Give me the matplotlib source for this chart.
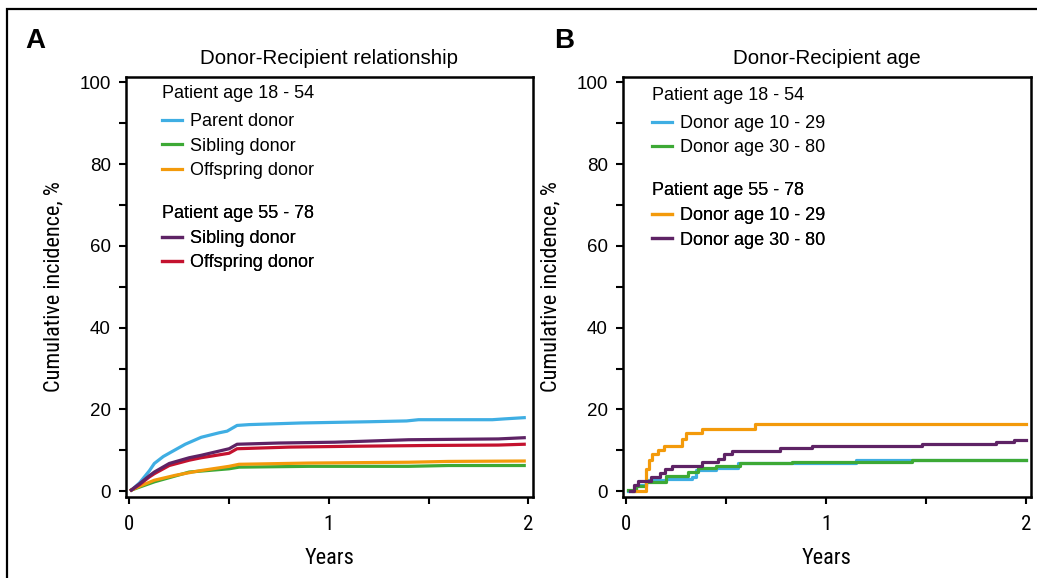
import matplotlib
matplotlib.use("Agg")
import matplotlib.pyplot as plt
import matplotlib.font_manager as fm
from matplotlib.patches import Rectangle
from matplotlib.ticker import MultipleLocator, FixedLocator

# === Fonts ===
NORMAL = ["Liberation Sans", "DejaVu Sans"]
plt.rcParams["font.family"] = NORMAL


def find_narrow_font():
    # pick a condensed/narrow regular face if one is installed
    prefs = ["Liberation Sans Narrow", "Roboto Condensed", "Open Sans Condensed",
             "Noto Sans Condensed", "DejaVu Sans Condensed", "DejaVu Sans"]
    found = {}
    for f in fm.fontManager.ttflist:
        narrow = ("Narrow" in f.name or "Condensed" in f.name
                  or f.stretch in ("condensed", "semi-condensed"))
        if not narrow or f.style != "normal":
            continue
        if f.weight not in (400, "normal", "regular", "book"):
            continue
        found.setdefault(f.name, f.fname)
    for p in prefs:
        if p in found:
            return found[p]
    if found:
        return sorted(found.values())[0]
    return None


NARROW_FILE = find_narrow_font()


def narrow(size):
    if NARROW_FILE:
        return fm.FontProperties(fname=NARROW_FILE, size=size)
    return fm.FontProperties(family=NORMAL, size=size, stretch="condensed")


# === Colours ===
BLUE = "#3FAEE3"
GREEN = "#3DA935"
ORANGE = "#F39A0B"
PURPLE = "#5E2365"
RED = "#C4122F"

# === Data: panel A (donor-recipient relationship) ===
a_parent_young_t = [0.01, 0.05, 0.10, 0.125, 0.17, 0.21, 0.28, 0.36, 0.45, 0.49, 0.54, 0.60, 0.86, 1.20, 1.39, 1.45, 1.82, 1.88, 1.98]
a_parent_young_v = [0.3, 2.0, 5.0, 6.8, 8.5, 9.6, 11.5, 13.2, 14.3, 14.7, 16.1, 16.3, 16.7, 17.0, 17.2, 17.5, 17.5, 17.7, 18.0]

a_sib_young_t = [0.01, 0.05, 0.125, 0.30, 0.50, 0.55, 0.90, 1.40, 1.60, 1.98]
a_sib_young_v = [0.3, 1.0, 2.3, 4.7, 5.5, 5.9, 6.1, 6.1, 6.3, 6.3]

a_off_young_t = [0.01, 0.05, 0.125, 0.23, 0.35, 0.50, 0.55, 0.90, 1.40, 1.60, 1.98]
a_off_young_v = [0.3, 1.2, 2.7, 3.9, 5.0, 6.1, 6.6, 6.9, 7.1, 7.3, 7.4]

a_sib_old_t = [0.01, 0.05, 0.10, 0.125, 0.20, 0.30, 0.36, 0.50, 0.54, 0.75, 1.03, 1.40, 1.85, 1.98]
a_sib_old_v = [0.3, 1.8, 3.8, 4.7, 6.8, 8.2, 8.8, 10.4, 11.5, 11.8, 12.0, 12.6, 12.8, 13.1]

a_off_old_t = [0.01, 0.05, 0.10, 0.125, 0.20, 0.30, 0.36, 0.50, 0.54, 0.80, 1.11, 1.50, 1.85, 1.98]
a_off_old_v = [0.3, 1.6, 3.5, 4.3, 6.3, 7.6, 8.2, 9.3, 10.4, 10.8, 11.0, 11.2, 11.3, 11.5]

# === Data: panel B (donor-recipient age), step curves ===
b_young_d1029_t = [0.01, 0.05, 0.10, 0.20, 0.33, 0.35, 0.45, 0.56, 1.15, 2.00]
b_young_d1029_v = [0.0, 1.5, 2.7, 3.1, 3.5, 5.1, 5.8, 6.8, 7.7, 7.7]

b_young_d3080_t = [0.01, 0.05, 0.10, 0.20, 0.31, 0.36, 0.45, 0.57, 0.83, 1.43, 2.00]
b_young_d3080_v = [0.3, 1.2, 2.3, 3.8, 4.7, 5.6, 6.3, 6.8, 7.1, 7.6, 7.6]

b_old_d1029_t = [0.035, 0.10, 0.115, 0.13, 0.16, 0.19, 0.28, 0.30, 0.38, 0.645, 2.00]
b_old_d1029_v = [0.0, 5.5, 7.6, 9.0, 10.0, 11.1, 12.8, 14.3, 15.3, 16.5, 16.5]

b_old_d3080_t = [0.02, 0.04, 0.06, 0.125, 0.17, 0.195, 0.23, 0.38, 0.46, 0.49, 0.53, 0.77, 0.93, 1.48, 1.85, 1.94, 2.00]
b_old_d3080_v = [0.0, 1.5, 2.5, 3.5, 4.5, 5.5, 6.3, 7.2, 8.0, 9.0, 9.8, 10.6, 11.1, 11.6, 12.0, 12.6, 12.6]

# === Labels ===
titles = ["Donor-Recipient relationship", "Donor-Recipient age"]
panel_letters = ["A", "B"]
group_labels = ["Patient age 18 - 54", "Patient age 55 - 78"]
a_young_labels = ["Parent donor", "Sibling donor", "Offspring donor"]
a_old_labels = ["Sibling donor", "Offspring donor"]
b_labels = ["Donor age 10 - 29", "Donor age 30 - 80"]
y_ticks = [0, 20, 40, 60, 80, 100]
x_ticks = [0, 1, 2]

LW = 2.3

fig = plt.figure(figsize=(10.37, 5.78), dpi=100)
axA = fig.add_axes([126 / 1037, 1 - 497 / 578, 407 / 1037, 420 / 578])
axB = fig.add_axes([623 / 1037, 1 - 497 / 578, 408 / 1037, 420 / 578])


def style_axes(ax, title, letter, letter_x):
    ax.set_xlim(-0.017, 2.024)
    ax.set_ylim(-1.4, 101.3)
    ax.xaxis.set_major_locator(FixedLocator(x_ticks))
    ax.xaxis.set_minor_locator(MultipleLocator(0.5))
    ax.yaxis.set_major_locator(FixedLocator(y_ticks))
    ax.yaxis.set_minor_locator(MultipleLocator(10))
    ax.tick_params(which="both", direction="out", length=5, width=1.5)
    ax.tick_params(axis="y", labelsize=13.5, pad=6)
    ax.tick_params(axis="x", pad=8)
    for lab in ax.get_xticklabels():
        lab.set_fontproperties(narrow(15))
    for sp in ax.spines.values():
        sp.set_linewidth(1.8)
    ax.set_title(title, fontsize=14.8, pad=9)
    ax.set_xlabel("Years", fontproperties=narrow(16), labelpad=10)
    ax.set_ylabel("Cumulative incidence, %", fontproperties=narrow(16), labelpad=10.5)
    ax.text(letter_x, 1.086, letter, transform=ax.transAxes, fontsize=20,
            fontweight="bold", ha="left", va="center")


def group_legend(ax, handles, labels, title, x, y, title_gap):
    leg = ax.legend(handles, labels, title=title, loc="upper left",
                    bbox_to_anchor=(x, y), frameon=False, fontsize=13,
                    title_fontsize=13, borderpad=0, handlelength=1.1,
                    handletextpad=0.45, labelspacing=0.41, alignment="left")
    # extra room between the group heading and its entries
    leg._legend_box.sep = 0.41 * 13 + title_gap
    ax.add_artist(leg)
    return leg


# === Panel A ===
style_axes(axA, titles[0], panel_letters[0], -0.248)
l1, = axA.plot(a_parent_young_t, a_parent_young_v, color=BLUE, lw=LW)
l2, = axA.plot(a_sib_young_t, a_sib_young_v, color=GREEN, lw=LW)
l3, = axA.plot(a_off_young_t, a_off_young_v, color=ORANGE, lw=LW)
l4, = axA.plot(a_off_old_t, a_off_old_v, color=RED, lw=LW)
l5, = axA.plot(a_sib_old_t, a_sib_old_v, color=PURPLE, lw=LW)
group_legend(axA, [l1, l2, l3], a_young_labels, group_labels[0], 0.066, 1.0026, 2.9)
group_legend(axA, [l5, l4], a_old_labels, group_labels[1], 0.066, 0.717, 0.4)

# === Panel B ===
style_axes(axB, titles[1], panel_letters[1], -0.169)
m1, = axB.step(b_young_d1029_t, b_young_d1029_v, where="post", color=BLUE, lw=LW)
m2, = axB.step(b_young_d3080_t, b_young_d3080_v, where="post", color=GREEN, lw=LW)
m3, = axB.step(b_old_d1029_t, b_old_d1029_v, where="post", color=ORANGE, lw=LW)
m4, = axB.step(b_old_d3080_t, b_old_d3080_v, where="post", color=PURPLE, lw=LW)
group_legend(axB, [m1, m2], b_labels, group_labels[0], 0.05, 0.9986, 2.9)
group_legend(axB, [m3, m4], b_labels, group_labels[1], 0.05, 0.772, 0.8)

# === Outer frame ===
fig.patches.append(Rectangle((7 / 1037, -0.1), 1.2, 1.1 - 9 / 578,
                             transform=fig.transFigure, fill=False,
                             lw=1.6, edgecolor="black"))

fig.savefig("out.png", dpi=100)
